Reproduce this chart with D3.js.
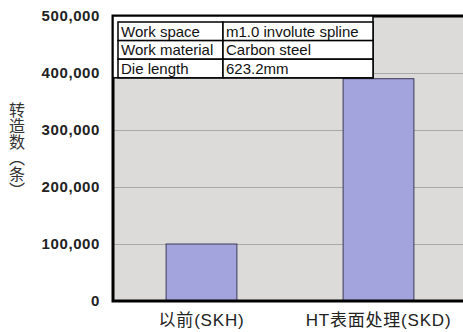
<!DOCTYPE html>
<html>
<head>
<meta charset="utf-8">
<script src="https://cdn.jsdelivr.net/npm/d3@7"></script>
<style>
    body { margin: 0; background: #fff; }
    svg { display: block; }
</style>
</head>
<body>
<div id="chart"></div>
<script>
// chart data
const categories = ["以前(SKH)", "HT表面处理(SKD)"];
const values = [100000, 390000];
const yTicks = [0, 100000, 200000, 300000, 400000, 500000];
const tableKeys = ["Work space", "Work material", "Die length"];
const tableVals = ["m1.0 involute spline", "Carbon steel", "623.2mm"];
const yTitle = "转造数（条）";

const width = 463;
const height = 332;
const margin = { top: 16, right: -4, bottom: 31, left: 113 };

const svg = d3.select("#chart")
    .append("svg")
    .attr("width", width)
    .attr("height", height);

const x = d3.scaleBand()
    .domain(categories)
    .range([margin.left, width - margin.right])
    .paddingInner(0.6)
    .paddingOuter(0.3);

const y = d3.scaleLinear()
    .domain([0, 500000])
    .range([height - margin.bottom, margin.top]);

// plot background
svg.append("rect")
    .attr("x", margin.left)
    .attr("y", margin.top)
    .attr("width", width - margin.right - margin.left)
    .attr("height", y(0) - margin.top)
    .attr("fill", "#dcdbd9");

// gridlines
svg.append("g")
    .selectAll("line")
    .data(yTicks.filter(d => d > 0 && d < 500000))
    .enter()
    .append("line")
    .attr("x1", margin.left)
    .attr("x2", width)
    .attr("y1", d => Math.round(y(d)) + 0.5)
    .attr("y2", d => Math.round(y(d)) + 0.5)
    .attr("stroke", "#a9a9a9")
    .attr("stroke-width", 1);

// bars
svg.append("g")
    .selectAll("rect")
    .data(values)
    .enter()
    .append("rect")
    .attr("x", (d, i) => x(categories[i]))
    .attr("y", d => y(d))
    .attr("width", x.bandwidth())
    .attr("height", d => y(0) - y(d))
    .attr("fill", "#a3a3dd")
    .attr("stroke", "#3a3a5a")
    .attr("stroke-width", 1);

// frame (left, top, bottom)
svg.append("path")
    .attr("d", `M${width},${margin.top}H${margin.left}V${y(0)}H${width}`)
    .attr("fill", "none")
    .attr("stroke", "#000")
    .attr("stroke-width", 3);

// y axis labels
const yAxis = d3.axisLeft(y)
    .tickValues(yTicks)
    .tickSize(0)
    .tickPadding(13)
    .tickFormat(d3.format(","));

svg.append("g")
    .attr("transform", `translate(${margin.left},0)`)
    .call(yAxis)
    .call(g => g.select(".domain").remove())
    .selectAll("text")
    .attr("font-family", "Liberation Sans, Arial, sans-serif")
    .attr("font-weight", "bold")
    .attr("font-size", 15)
    .attr("letter-spacing", 0.6)
    .attr("fill", "#222");

// x axis labels
const xAxis = d3.axisBottom(x).tickSize(0).tickPadding(13);
svg.append("g")
    .attr("transform", `translate(0,${y(0)})`)
    .call(xAxis)
    .call(g => g.select(".domain").remove())
    .selectAll("text")
    .attr("font-family", "Liberation Sans, Noto Sans CJK SC, sans-serif")
    .attr("font-size", 17)
    .attr("letter-spacing", 0.8)
    .attr("fill", "#222");

// y title, vertical text (brackets get their vertical forms)
svg.append("text")
    .attr("x", 17)
    .attr("y", 102)
    .attr("font-family", "Noto Sans CJK SC")
    .attr("font-size", 16)
    .attr("fill", "#333")
    .style("writing-mode", "vertical-rl")
    .style("text-orientation", "mixed")
    .style("font-feature-settings", "'vert' 1")
    .text(yTitle);

// info table
const tblX = margin.left + 5;
const tblY = 22;
const rowH = 18.6;
const col1 = 105;
const col2 = 150;

svg.append("rect")
    .attr("x", margin.left)
    .attr("y", margin.top)
    .attr("width", tblX + col1 + col2 - margin.left)
    .attr("height", tblY + rowH * tableKeys.length - margin.top)
    .attr("fill", "#fff")
    .attr("stroke", "#000")
    .attr("stroke-width", 1.5);

const rows = svg.append("g")
    .selectAll("g")
    .data(tableKeys)
    .enter()
    .append("g")
    .attr("transform", (d, i) => `translate(${tblX},${tblY + i * rowH})`);

rows.append("rect")
    .attr("width", col1)
    .attr("height", rowH)
    .attr("fill", "#fff")
    .attr("stroke", "#000")
    .attr("stroke-width", 1.5);

rows.append("rect")
    .attr("x", col1)
    .attr("width", col2)
    .attr("height", rowH)
    .attr("fill", "#fff")
    .attr("stroke", "#000")
    .attr("stroke-width", 1.5);

rows.append("text")
    .attr("x", 3)
    .attr("y", rowH - 4)
    .attr("font-family", "Liberation Sans, Arial, sans-serif")
    .attr("font-size", 15)
    .attr("fill", "#111")
    .text(d => d);

rows.append("text")
    .attr("x", col1 + 3)
    .attr("y", rowH - 4)
    .attr("font-family", "Liberation Sans, Arial, sans-serif")
    .attr("font-size", 15)
    .attr("fill", "#111")
    .text((d, i) => tableVals[i]);
</script>
</body>
</html>
